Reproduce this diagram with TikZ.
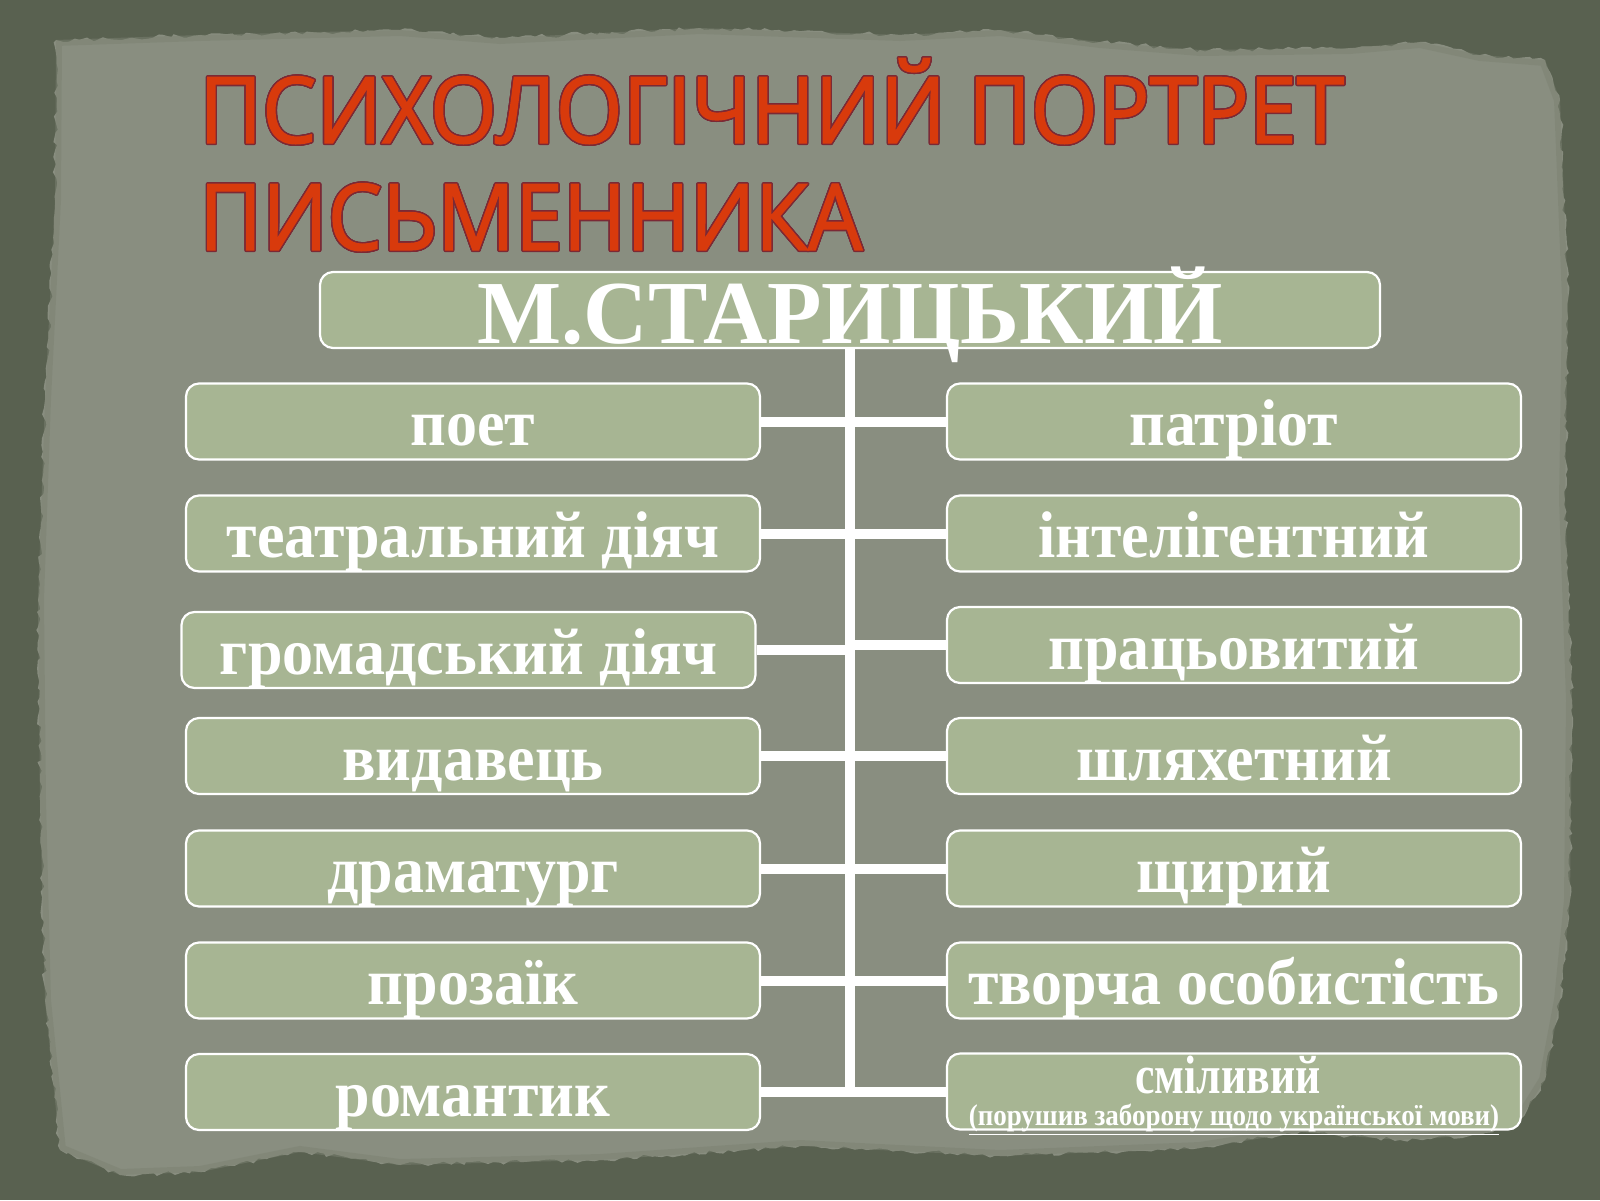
\documentclass[tikz,border=0pt]{standalone}
\usepackage{fontspec}
\setmainfont{Liberation Serif}
\newfontfamily\titlefont{Open Sans}[FakeStretch=0.935, FakeBold=1.3]
\newfontfamily\boxfont{Liberation Serif}[FakeStretch=0.94]
\newfontfamily\namefont{Liberation Serif}[FakeStretch=0.99]
\newfontfamily\smallfont{Liberation Serif}[FakeStretch=0.81]
\newfontfamily\notefont{Liberation Serif}[FakeStretch=0.9]
\usepackage[copies]{contour}
\contourlength{0.7pt}
\contournumber{24}
\usetikzlibrary{decorations.pathmorphing}
\definecolor{borderc}{HTML}{596150}
\definecolor{paperc}{HTML}{898E80}
\definecolor{paperedge}{HTML}{7C8272}
\definecolor{boxgreen}{HTML}{A7B593}
\definecolor{titlered}{HTML}{D83A0C}
\definecolor{titleline}{HTML}{7B2935}
\tikzset{
  pill/.style={draw=white, line width=1.1pt, fill=boxgreen, rounded corners=6.5pt,
    minimum width=287pt, minimum height=38pt, inner sep=0pt,
    text=white, font=\boxfont\bfseries\fontsize{33}{36}\selectfont,
    text height=24pt, text depth=0pt},
  headbox/.style={draw=white, line width=1.1pt, fill=boxgreen, rounded corners=6.5pt,
    minimum width=530pt, minimum height=38pt, inner sep=0pt},
  link/.style={draw=white, line width=5pt},
  titletext/.style={text=titlered, inner sep=0pt, font=\titlefont\fontsize{46}{50}\selectfont},
  lbl/.style={text=white, inner sep=0pt},
}
\begin{document}
\begin{tikzpicture}[x=0.5pt,y=-0.5pt]
\useasboundingbox (0,0) rectangle (1600,1200);
\fill[borderc] (0,0) rectangle (1600,1200);
\def\paperpath{(56,40) -- (200,35) -- (400,30) -- (500,38) -- (700,28) -- (900,35) -- (1000,30) -- (1100,42) -- (1200,50) -- (1350,48) -- (1420,42) -- (1480,55) -- (1545,60) -- (1560,100) -- (1568,300) -- (1565,500) -- (1572,700) -- (1570,900) -- (1560,1000) -- (1545,1080) -- (1520,1120) -- (1480,1135) -- (1400,1140) -- (1300,1132) -- (1200,1148) -- (1000,1156) -- (800,1146) -- (600,1160) -- (400,1165) -- (300,1152) -- (200,1172) -- (120,1175) -- (60,1150) -- (45,1000) -- (40,800) -- (38,600) -- (45,400) -- (55,200) -- cycle}
\fill[paperc, decorate, decoration={random steps, segment length=3pt, amplitude=1.2pt}] \paperpath;
\begin{scope}
  \clip \paperpath;
  \draw[paperedge, line width=6pt, opacity=0.5] \paperpath;
\end{scope}

% title
\node[titletext, anchor=base west] (t1) at (199,143) {\contour{titleline}{ПСИХОЛОГІЧНИЙ ПОРТРЕТ}};
\node[titletext, anchor=base west] (t2) at (199,250) {\contour{titleline}{ПИСЬМЕННИКА}};

% head
\node[headbox] (top) at (850,310) {};
\node[lbl, anchor=base, font=\namefont\bfseries\fontsize{45}{48}\selectfont] (name) at (850,343) {М.СТАРИЦЬКИЙ};

% boxes
\node[pill] (L1) at (473,421.5) {поет};
\node[pill] (L2) at (473,533.5) {театральний діяч};
\node[pill] (L3) at (468.5,650) {громадський діяч};
\node[pill] (L4) at (473,756) {видавець};
\node[pill] (L5) at (473,868.5) {драматург};
\node[pill] (L6) at (473,980.5) {прозаїк};
\node[pill] (L7) at (473,1092) {романтик};

\node[pill] (R1) at (1234,421.5) {патріот};
\node[pill] (R2) at (1234,533.5) {інтелігентний};
\node[pill] (R3) at (1234,645) {працьовитий};
\node[pill] (R4) at (1234,756) {шляхетний};
\node[pill] (R5) at (1234,868.5) {щирий};
\node[pill] (R6) at (1234,980.5) {творча особистість};
\node[pill] (R7) at (1234,1091.5) {};
\node[lbl, anchor=base, font=\smallfont\bfseries\fontsize{27}{30}\selectfont] (r7a) at (1228,1093) {сміливий};
\node[lbl, anchor=base, font=\notefont\bfseries\fontsize{15}{16}\selectfont] (r7b) at (1234,1125) {\underline{(порушив заборону щодо української мови)}};

% connectors
\coordinate (vend) at (850,1097);
\draw[link] (top.south) -- (vend);
\foreach \i in {1,...,7}{
  \draw[link] (L\i.east) -- (L\i.east -| top.south);
  \draw[link] (R\i.west) -- (R\i.west -| top.south);
}
\end{tikzpicture}
\end{document}
